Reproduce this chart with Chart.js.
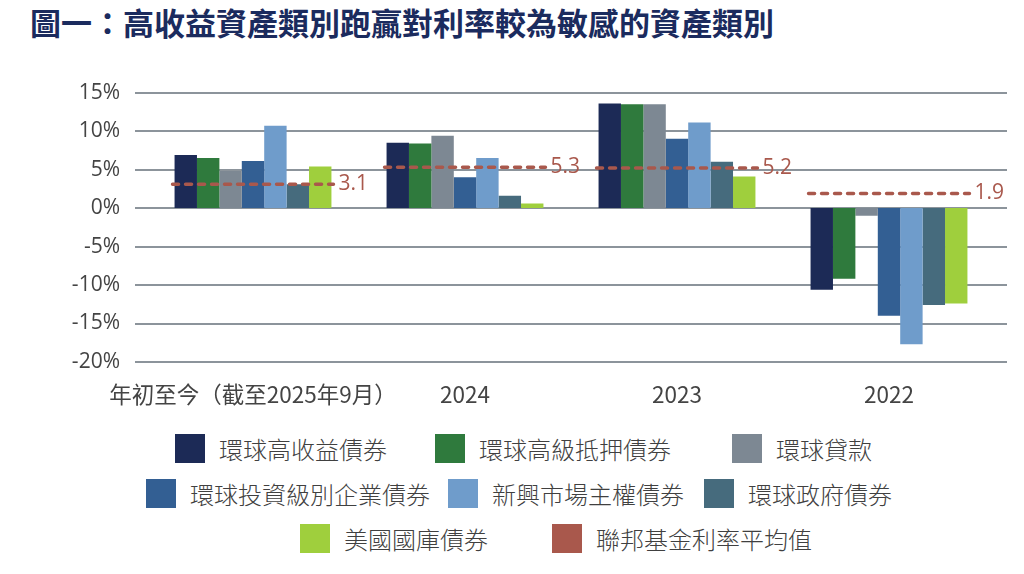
<!DOCTYPE html>
<html lang="zh-Hant">
<head>
    <meta charset="UTF-8">
    <title>高收益資產類別跑贏對利率較為敏感的資產類別</title>
    <script src="https://cdn.jsdelivr.net/npm/chart.js"></script>
    <style>
        body { margin: 0; width: 1024px; height: 574px; background: #fff; position: relative; overflow: hidden; }
        h1 {
            position: absolute; left: 30px; top: 3px; margin: 0;
            font-family: "Noto Sans CJK TC", sans-serif; font-weight: 700;
            font-size: 31px; line-height: 38px; color: #1b2b5e; white-space: nowrap;
        }
        #wrap { position: absolute; left: 0; top: 53px; width: 1024px; height: 357px; }
        .lg { position: absolute; display: flex; align-items: center; height: 30px;
              font-family: "Noto Sans CJK TC", sans-serif; font-weight: 300; font-size: 24px;
              color: #404040; white-space: nowrap; }
        .lg span.box { width: 30px; height: 29px; margin-right: 14px; display: inline-block; }
    </style>
</head>
<body>
    <h1>圖一：高收益資產類別跑贏對利率較為敏感的資產類別</h1>
    <div id="wrap"><canvas id="chart" width="1024" height="357"></canvas></div>
    <div id="legend"></div>

    <script>
        // categories and values (%)
        const categories = ['年初至今（截至2025年9月）', '2024', '2023', '2022'];
        const seriesNames = ['環球高收益債券', '環球高級抵押債券', '環球貸款', '環球投資級別企業債券',
                             '新興市場主權債券', '環球政府債券', '美國國庫債券'];
        const globalHighYield = [6.9, 8.5, 13.6, -10.6];
        const seniorSecured   = [6.5, 8.4, 13.5, -9.2];
        const globalLoans     = [4.8, 9.4, 13.5, -1.0];
        const globalIgCorp    = [6.1, 4.0, 9.0, -14.0];
        const emSovereign     = [10.7, 6.5, 11.1, -17.7];
        const globalGovt      = [3.1, 1.6, 6.0, -12.6];
        const usTreasuries    = [5.4, 0.6, 4.1, -12.4];
        const fedName = '聯邦基金利率平均值';
        const fedFundsAvg     = [3.1, 5.3, 5.2, 1.9];
        const yTicks = [-20, -15, -10, -5, 0, 5, 10, 15];

        const colors = ['#1c2a56', '#2f7a3d', '#7d8893', '#335f93', '#6f9ccb', '#466b7d', '#9fcf3d'];
        const fedColor = '#a9584c';

        const seriesValues = [globalHighYield, seniorSecured, globalLoans, globalIgCorp,
                              emSovereign, globalGovt, usTreasuries];

        // horizontal gridlines run a little past the plot area, as in the original
        const wideGrid = {
            id: 'wideGrid',
            beforeDatasetsDraw(chart) {
                const ctx = chart.ctx;
                const y = chart.scales.y;
                const a = chart.chartArea;
                ctx.save();
                ctx.strokeStyle = '#8c949b';
                ctx.lineWidth = 2;
                yTicks.forEach(t => {
                    const py = Math.round(y.getPixelForValue(t));
                    ctx.beginPath();
                    ctx.moveTo(a.left - 12, py);
                    ctx.lineTo(a.right + 12, py);
                    ctx.stroke();
                });
                ctx.restore();
            }
        };

        // dashed fed-funds average over each group, placed through the chart's scales
        const fedLines = {
            id: 'fedLines',
            afterDatasetsDraw(chart) {
                const ctx = chart.ctx;
                const y = chart.scales.y;
                const first = chart.getDatasetMeta(0).data;
                const last = chart.getDatasetMeta(seriesValues.length - 1).data;
                ctx.save();
                fedFundsAvg.forEach((v, i) => {
                    const x0 = first[i].x - first[i].width / 2 - 2;
                    const x1 = last[i].x + last[i].width / 2 + 2;
                    const py = y.getPixelForValue(v);
                    ctx.strokeStyle = fedColor;
                    ctx.lineWidth = 3.5;
                    ctx.lineCap = 'round';
                    ctx.setLineDash([6, 7]);
                    ctx.beginPath();
                    ctx.moveTo(x0, py);
                    ctx.lineTo(x1, py);
                    ctx.stroke();
                    ctx.setLineDash([]);
                    ctx.fillStyle = fedColor;
                    ctx.font = '21px "Open Sans", sans-serif';
                    ctx.textBaseline = 'middle';
                    ctx.fillText(v.toFixed(1), x1 + 5, py);
                });
                ctx.restore();
            }
        };

        const tickFont = { family: '"Open Sans", "Noto Sans CJK TC", sans-serif', size: 21 };

        new Chart(document.getElementById('chart'), {
            type: 'bar',
            data: {
                labels: categories,
                datasets: seriesValues.map((vals, i) => ({
                    label: seriesNames[i],
                    data: vals,
                    backgroundColor: colors[i],
                    borderWidth: 0,
                    categoryPercentage: 0.74,
                    barPercentage: 1.0
                }))
            },
            options: {
                responsive: false,
                animation: false,
                layout: { padding: { top: 25, right: 29, bottom: 0, left: 0 } },
                plugins: { legend: { display: false }, tooltip: { enabled: false } },
                scales: {
                    x: {
                        grid: { display: false },
                        border: { display: false },
                        ticks: { color: '#444', font: { family: '"Noto Sans CJK TC", sans-serif', size: 22.5 },
                                 padding: 11, maxRotation: 0, autoSkip: false },
                        afterFit(scale) { scale.height = 48; }
                    },
                    y: {
                        min: -20, max: 15,
                        afterBuildTicks(scale) { scale.ticks = yTicks.map(v => ({ value: v })); },
                        grid: { display: false, drawTicks: false },
                        border: { display: false },
                        ticks: { color: '#444', font: tickFont, padding: 27, callback: v => v + '%' },
                        afterFit(scale) { scale.width = 147; }
                    }
                }
            },
            plugins: [wideGrid, fedLines]
        });

        // legend laid out like the reference: 3 / 3 / 2 rows
        const legendSlots = [[175, 433], [435, 433], [732, 433],
                             [146, 478], [448, 478], [704, 478],
                             [300, 523], [552, 523]];
        const legendItems = seriesNames.map((n, i) => [n, colors[i]]).concat([[fedName, fedColor]]);
        const legendEl = document.getElementById('legend');
        legendItems.forEach(([name, col], i) => {
            const d = document.createElement('div');
            d.className = 'lg';
            d.style.left = legendSlots[i][0] + 'px';
            d.style.top = legendSlots[i][1] + 'px';
            d.innerHTML = '<span class="box" style="background:' + col + '"></span>' + name;
            legendEl.appendChild(d);
        });
    </script>
</body>
</html>
